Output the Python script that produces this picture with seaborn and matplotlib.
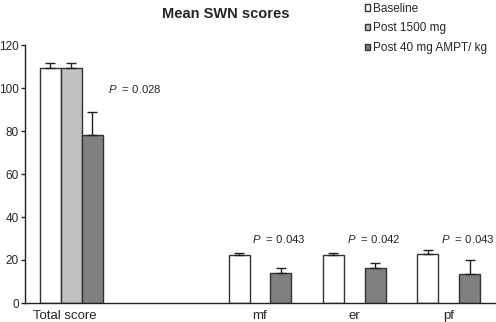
import numpy as np
import pandas as pd
import seaborn as sns
import matplotlib.pyplot as plt
import matplotlib.transforms as mtransforms

categories = ["Total score", " ", "mf", "er", "pf"]
series = ["Baseline", "Post 1500 mg", "Post 40 mg AMPT/ kg"]
baseline = [109.2, np.nan, 22.3, 22.3, 22.6]
baseline_err = [2.6, np.nan, 0.8, 1.0, 2.1]
post1500 = [109.2, np.nan, np.nan, np.nan, np.nan]
post1500_err = [2.6, np.nan, np.nan, np.nan, np.nan]
ampt = [78.0, np.nan, 14.1, 16.1, 13.6]
ampt_err = [10.7, np.nan, 2.3, 2.4, 6.3]
p_labels = ["0.028", "0.043", "0.042", "0.043"]
p_cats = ["Total score", "mf", "er", "pf"]
p_y = [99.5, 29.8, 29.8, 29.8]

sns.set_style("white")
plt.rcParams["font.family"] = ["Liberation Sans", "DejaVu Sans"]
plt.rcParams["mathtext.fontset"] = "custom"
plt.rcParams["mathtext.rm"] = "Liberation Sans"
plt.rcParams["mathtext.it"] = "Liberation Sans:italic"

rows = []
for name, vals, errs in [(series[0], baseline, baseline_err),
                         (series[1], post1500, post1500_err),
                         (series[2], ampt, ampt_err)]:
    for c, v, e in zip(categories, vals, errs):
        rows.append({"cat": c, "series": name, "value": v, "err": e})
df = pd.DataFrame(rows)

colors = {series[0]: "#ffffff", series[1]: "#c0c0c0", series[2]: "#808080"}

fig = plt.figure(figsize=(4.96, 3.22), dpi=100)
ax = fig.add_axes([25 / 496, 1 - 303 / 322, 470 / 496, 258 / 322])
sns.barplot(data=df.dropna(subset=["value"]), x="cat", y="value", hue="series",
            order=categories, hue_order=series, palette=colors, width=2 / 3,
            errorbar=None, edgecolor="#333333", linewidth=1, ax=ax)

# upper-only error bars at the centres of the drawn bars
for cont, name in zip(ax.containers, series):
    sub = df[(df["series"] == name) & df["value"].notna()]
    for bar, (_, r) in zip(cont, sub.iterrows()):
        xc = bar.get_x() + bar.get_width() / 2
        ax.errorbar(xc, bar.get_height(), yerr=[[0], [r["err"]]], fmt="none",
                    ecolor="#222222", elinewidth=1, capsize=3.5, capthick=1)

for c, lab, y in zip(p_cats, p_labels, p_y):
    xi = categories.index(c)
    ax.text(xi - 0.08 if c != "Total score" else xi + 0.39, y,
            r"$\it{P}$  = " + lab, fontsize=8.2, va="center", ha="left")

ax.set_ylim(0, 120)
ax.set_xlim(-0.49, 4.49)
ax.set_yticks(range(0, 121, 20))
ax.set_xlabel("")
ax.set_ylabel("")
ax.tick_params(axis="y", direction="out", length=3, width=1, pad=1.5, labelsize=8.5, left=True)
ax.tick_params(axis="x", length=0, pad=5, labelsize=9.5)
sns.despine(ax=ax)
for s in ["left", "bottom"]:
    ax.spines[s].set_color("#222222")
    ax.spines[s].set_linewidth(1)

# "Total score" sits a little left of its bars in the original
lbl = ax.get_xticklabels()[0]
lbl.set_transform(lbl.get_transform() + mtransforms.ScaledTranslation(-6 / 100, 0, fig.dpi_scale_trans))

handles, labels = ax.get_legend_handles_labels()
ax.legend(handles, labels, loc="upper left", bbox_to_anchor=(354 / 496, 1.025),
          bbox_transform=fig.transFigure, frameon=False, fontsize=8.5,
          handlelength=0.45, handleheight=0.45, handletextpad=0.3, labelspacing=0.66)

fig.text(226 / 496, 1 - 14 / 322, "Mean SWN scores", ha="center", va="center",
         fontsize=10.5, fontweight="bold")

fig.savefig("out.png", dpi=100)
